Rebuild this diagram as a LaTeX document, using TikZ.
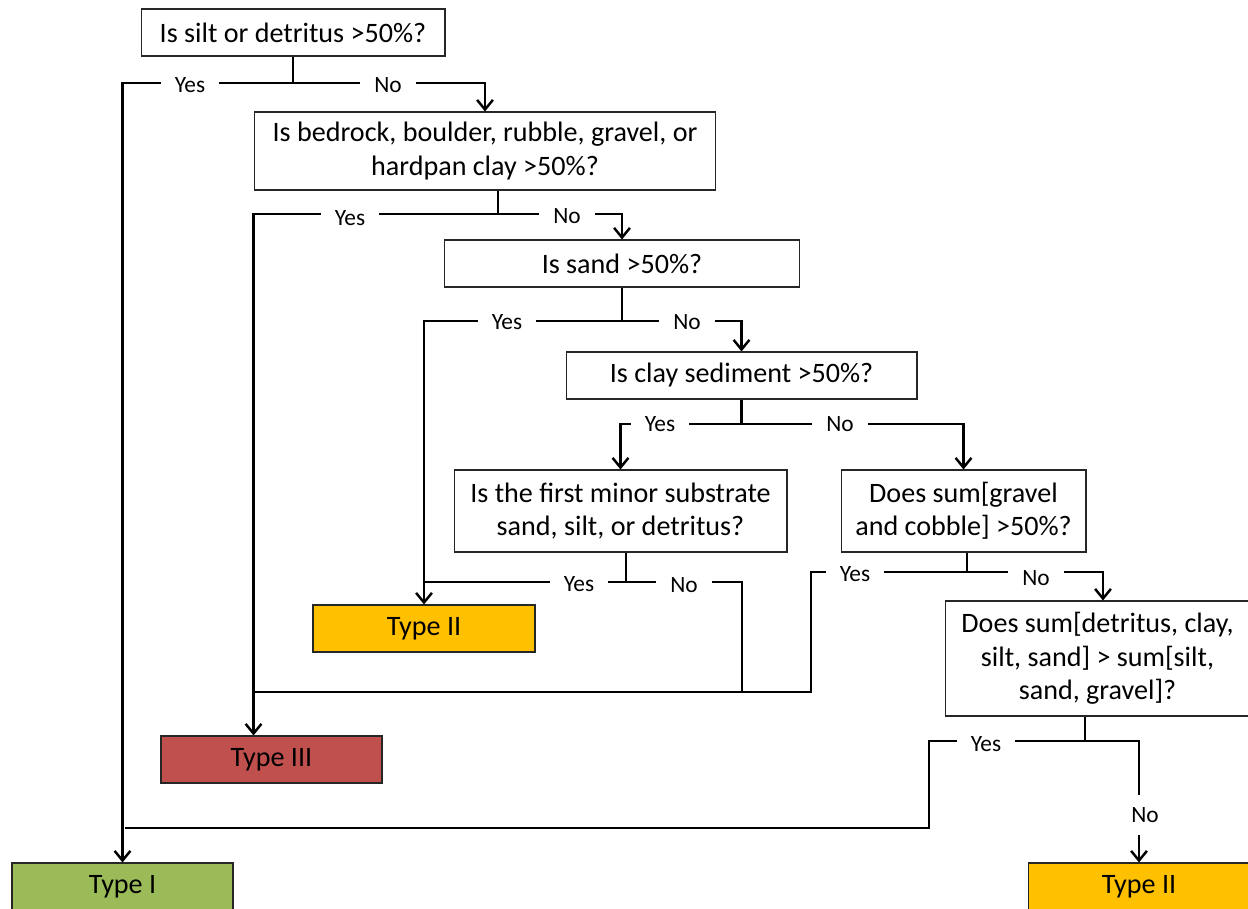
\documentclass[tikz,border=0pt]{standalone}
\usepackage{fontspec}
\setmainfont{Carlito}
\usetikzlibrary{arrows.meta,calc}
\definecolor{tgreen}{HTML}{9BBB59}
\definecolor{tred}{HTML}{C0504D}
\definecolor{tyellow}{HTML}{FFC000}
\tikzset{
  qbox/.style={draw=black!85, line width=0.6pt, fill=white, align=center, inner sep=0pt,
    font=\fontsize{16}{19}\selectfont},
  tbox/.style={qbox},
  conn/.style={line width=1.4pt, black},
  arr/.style={conn, -{Straight Barb[length=5.5pt,width=9pt]}},
  lbl/.style={fill=white, inner xsep=8pt, inner ysep=2pt, font=\fontsize{13.3}{15}\selectfont}
}
\begin{document}
\begin{tikzpicture}[x=0.02cm,y=-0.02cm]
\useasboundingbox (0,0) rectangle (1248,909);
% nodes
\node[qbox, minimum width=6.08cm, minimum height=0.94cm] (q1) at (293,32.5) {Is silt or detritus >50\%?};
\node[qbox, minimum width=9.24cm, minimum height=1.56cm] (q2) at (485,151) {Is bedrock, boulder, rubble, gravel, or\\hardpan clay >50\%?};
\node[qbox, minimum width=7.12cm, minimum height=0.94cm] (q3) at (622,263.5) {Is sand >50\%?};
\node[qbox, minimum width=7.02cm, minimum height=0.94cm] (q4) at (741.5,375.5) {Is clay sediment >50\%?};
\node[qbox, minimum width=6.66cm, minimum height=1.64cm] (q5) at (620.5,511) {Is the first minor substrate\\sand, silt, or detritus?};
\node[qbox, minimum width=4.9cm, minimum height=1.64cm] (q6) at (963.5,511) {Does sum[gravel\\and cobble] >50\%?};
\node[qbox, minimum width=6.1cm, minimum height=2.3cm] (q7) at (1097.5,658.5) {Does sum[detritus, clay,\\silt, sand] > sum[silt,\\sand, gravel]?};
\node[tbox, fill=tgreen, minimum width=4.42cm, minimum height=0.96cm] (t1) at (122.5,887) {Type I};
\node[tbox, fill=tred, minimum width=4.42cm, minimum height=0.94cm] (t3) at (271.5,759.5) {Type III};
\node[tbox, fill=tyellow, minimum width=4.44cm, minimum height=0.94cm] (t2a) at (424,628.5) {Type II};
\node[tbox, fill=tyellow, minimum width=4.44cm, minimum height=0.96cm] (t2b) at (1139,887) {Type II};
% level coordinates
\coordinate (y1) at (0,83);
\coordinate (y2) at (0,214);
\coordinate (y3) at (0,321);
\coordinate (y4) at (0,424);
\coordinate (y5) at (0,582);
\coordinate (y6) at (0,572);
\coordinate (y7) at (0,741);
\coordinate (y8) at (0,692);
\coordinate (y9) at (0,828);
\coordinate (b2) at ($(q2.south)+(13,0)$);
\coordinate (b5) at ($(q5.south)+(5.5,0)$);
\coordinate (b6) at ($(q6.south)+(3.5,0)$);
\coordinate (b7) at ($(q7.south)+(-12.5,0)$);
\coordinate (n5) at (742,582);
\coordinate (n6) at (811,572);
\coordinate (n7) at (929,741);
% connectors q1
\draw[arr] (q1.south) -- (q1.south |- y1) -| (t1.north);
\draw[arr] (q1.south |- y1) -| (q2.north);
% q2
\draw[arr] (b2) -- (b2 |- y2) -| (q2.west |- t3.north);
\draw[arr] (b2 |- y2) -| (q3.north);
% q3
\draw[arr] (q3.south) -- (q3.south |- y3) -| (t2a.north);
\draw[arr] (q3.south |- y3) -| (q4.north);
% q4
\draw[arr] (q4.south) -- (q4.south |- y4) -| (q5.north);
\draw[arr] (q4.south |- y4) -| (q6.north);
% q5
\draw[conn] (b5) -- (b5 |- y5) -- (t2a.north |- y5);
\draw[conn] (b5 |- y5) -- (n5) -- (n5 |- y8);
% q6
\draw[conn] (b6) -- (b6 |- y6) -- (n6) -- (n6 |- y8) -- (q2.west |- y8);
\draw[arr] (b6 |- y6) -| ($(q7.north)+(5.5,0)$);
% q7
\draw[conn] (b7) -- (b7 |- y7) -- (n7) -- (n7 |- y9) -- ($(t1.north |- y9)+(2.5,0)$);
\draw[arr] (b7 |- y7) -| (t2b.north);
% labels
\node[lbl] (l1y) at (190,85) {Yes};
\node[lbl] (l1n) at (388,85) {No};
\node[lbl] (l2y) at (350,218) {Yes};
\node[lbl] (l2n) at (567,216) {No};
\node[lbl] (l3y) at (507,322) {Yes};
\node[lbl] (l3n) at (687,322) {No};
\node[lbl] (l4y) at (660,424) {Yes};
\node[lbl] (l4n) at (840,424) {No};
\node[lbl] (l5y) at (579,584) {Yes};
\node[lbl] (l5n) at (684,585) {No};
\node[lbl] (l6y) at (855,574) {Yes};
\node[lbl] (l6n) at (1036,578) {No};
\node[lbl] (l7y) at (986,744) {Yes};
\node[lbl, inner ysep=7pt, inner xsep=4pt] (l7n) at (1145,815) {No};
\end{tikzpicture}
\end{document}
